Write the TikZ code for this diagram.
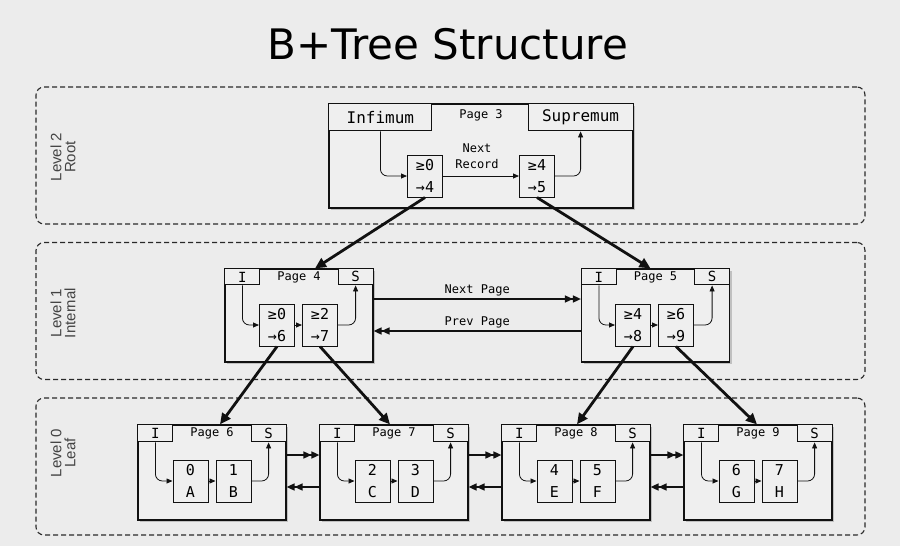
\documentclass[tikz,border=0pt]{standalone}
\usepackage{fontspec}
\setmainfont{DejaVu Sans}
\newfontfamily\monofont{DejaVu Sans Mono}
\newfontfamily\labelfont{Liberation Sans}
\usetikzlibrary{arrows.meta,positioning,shadows}
\definecolor{paper}{HTML}{ECECEC}
\definecolor{boxfill}{HTML}{EFEFEF}
\definecolor{ink}{HTML}{111111}
\definecolor{muted}{HTML}{444444}

\begin{document}
\begin{tikzpicture}[
  x=1pt,y=-1pt,
  lvl/.style={draw=ink!90,line width=1.1pt,dash pattern=on 5pt off 3pt,rounded corners=8pt,
              minimum width=829pt,minimum height=137pt},
  lab/.style={rotate=90,align=center,font=\labelfont\fontsize{15}{14}\selectfont,color=muted},
  pg/.style={draw=ink,line width=1.2pt,fill=boxfill,minimum width=148pt,minimum height=95pt,
             inner sep=0pt,drop shadow={shadow xshift=2pt,shadow yshift=-2pt,opacity=.4}},
  hd/.style={draw=ink,line width=1pt,fill=boxfill,minimum width=35pt,minimum height=17pt,
             inner sep=0pt,font=\monofont\fontsize{14}{14}\selectfont},
  rec/.style={draw=ink,line width=1pt,fill=boxfill,minimum width=35pt,minimum height=42pt,
              inner sep=0pt,align=center,font=\monofont\fontsize{15}{22}\selectfont},
  lbl/.style={font=\monofont\fontsize{12}{16}\selectfont,align=center,inner sep=1pt},
  a/.style={-{Triangle[length=6pt,width=5pt]},draw=ink,line width=.8pt,rounded corners=7pt},
  pp/.style={-{Triangle[length=8pt,width=7pt]Triangle[length=8pt,width=7pt]},draw=ink,line width=1.6pt},
  tree/.style={-{Triangle[length=11pt,width=10pt]},draw=ink,line width=2.8pt}]
\useasboundingbox (0,0) rectangle (900,546);
\fill[paper] (0,0) rectangle (900,546);
\node[font=\fontsize{42}{42}\selectfont] (title) at (448,44) {B+Tree Structure};
% levels
\node[lvl] (lv2) at (450.5,155.5) {};
\node[lvl] (lv1) at (450.5,311) {};
\node[lvl] (lv0) at (450.5,466.5) {};
\node[lab] (lb2) at (63,157) {Level 2\\Root};
\node[lab] (lb1) at (63,313) {Level 1\\Internal};
\node[lab] (lb0) at (63,453) {Level 0\\Leaf};
% root page
\node[pg,minimum width=304pt,minimum height=104pt] (p3) at (481,156) {};
\node[hd,anchor=north west,minimum width=103pt,minimum height=27pt,font=\monofont\fontsize{16}{16}\selectfont] (inf) at (p3.north west) {Infimum};
\node[hd,anchor=north east,minimum width=105pt,minimum height=27pt,font=\monofont\fontsize{16}{16}\selectfont] (sup) at (p3.north east) {Supremum};
\node[lbl] (p3t) at ([yshift=-12pt]p3.north) {Page 3};
\node[rec] (r30) at (425,176) {≥0\\→4};
\node[rec] (r34) at (537,176) {≥4\\→5};
\node[lbl] (nr) at (477,156) {Next\\Record};
\draw[a] (inf.south) |- (r30.west);
\draw[a] (r30.east) -- (r34.west);
\draw[a] (r34.east) -| (sup.south);
% internal pages
\node[pg,minimum height=93pt] (p4) at (299,315.5) {};
\node[hd,anchor=north west,minimum height=16pt] (p4i) at (p4.north west) {I};
\node[hd,anchor=north east,minimum height=16pt] (p4s) at (p4.north east) {S};
\node[lbl] (p4t) at ([yshift=-9pt]p4.north) {Page 4};
\node[rec] (r40) at (277,325) {≥0\\→6};
\node[rec] (r42) at (320,325) {≥2\\→7};
\draw[a] (p4i.south) |- (r40.west);
\draw[a] (r40.east) -- (r42.west);
\draw[a] (r42.east) -| (p4s.south);
\node[pg,minimum height=93pt] (p5) at (655.5,315.5) {};
\node[hd,anchor=north west,minimum height=16pt] (p5i) at (p5.north west) {I};
\node[hd,anchor=north east,minimum height=16pt] (p5s) at (p5.north east) {S};
\node[lbl] (p5t) at ([yshift=-9pt]p5.north) {Page 5};
\node[rec] (r54) at (633,325) {≥4\\→8};
\node[rec] (r56) at (676,325) {≥6\\→9};
\draw[a] (p5i.south) |- (r54.west);
\draw[a] (r54.east) -- (r56.west);
\draw[a] (r56.east) -| (p5s.south);
\draw[pp] ([yshift=16.5pt]p4.east) -- ([yshift=16.5pt]p5.west) node[lbl,midway,above=1pt] (np) {Next Page};
\draw[pp] ([yshift=-15.5pt]p5.west) -- ([yshift=-15.5pt]p4.east) node[lbl,midway,above=1pt] (pv) {Prev Page};
% leaf pages
\node[pg] (p6) at (212,472.5) {};
\node[hd,anchor=north west] (p6i) at (p6.north west) {I};
\node[hd,anchor=north east] (p6s) at (p6.north east) {S};
\node[lbl] (p6t) at ([yshift=-9pt]p6.north) {Page 6};
\node[rec] (r60) at (190.5,481) {0\\A};
\node[rec] (r61) at (233.5,481) {1\\B};
\node[pg] (p7) at (394,472.5) {};
\node[hd,anchor=north west] (p7i) at (p7.north west) {I};
\node[hd,anchor=north east] (p7s) at (p7.north east) {S};
\node[lbl] (p7t) at ([yshift=-9pt]p7.north) {Page 7};
\node[rec] (r72) at (372.5,481) {2\\C};
\node[rec] (r73) at (415.5,481) {3\\D};
\node[pg] (p8) at (576,472.5) {};
\node[hd,anchor=north west] (p8i) at (p8.north west) {I};
\node[hd,anchor=north east] (p8s) at (p8.north east) {S};
\node[lbl] (p8t) at ([yshift=-9pt]p8.north) {Page 8};
\node[rec] (r84) at (554.5,481) {4\\E};
\node[rec] (r85) at (597.5,481) {5\\F};
\node[pg] (p9) at (758,472.5) {};
\node[hd,anchor=north west] (p9i) at (p9.north west) {I};
\node[hd,anchor=north east] (p9s) at (p9.north east) {S};
\node[lbl] (p9t) at ([yshift=-9pt]p9.north) {Page 9};
\node[rec] (r96) at (736.5,481) {6\\G};
\node[rec] (r97) at (779.5,481) {7\\H};
\draw[a] (p6i.south) |- (r60.west); \draw[a] (r60.east) -- (r61.west); \draw[a] (r61.east) -| (p6s.south);
\draw[a] (p7i.south) |- (r72.west); \draw[a] (r72.east) -- (r73.west); \draw[a] (r73.east) -| (p7s.south);
\draw[a] (p8i.south) |- (r84.west); \draw[a] (r84.east) -- (r85.west); \draw[a] (r85.east) -| (p8s.south);
\draw[a] (p9i.south) |- (r96.west); \draw[a] (r96.east) -- (r97.west); \draw[a] (r97.east) -| (p9s.south);
\draw[pp] ([yshift=17.5pt]p6.east) -- ([yshift=17.5pt]p7.west);
\draw[pp] ([yshift=-14.5pt]p7.west) -- ([yshift=-14.5pt]p6.east);
\draw[pp] ([yshift=17.5pt]p7.east) -- ([yshift=17.5pt]p8.west);
\draw[pp] ([yshift=-14.5pt]p8.west) -- ([yshift=-14.5pt]p7.east);
\draw[pp] ([yshift=17.5pt]p8.east) -- ([yshift=17.5pt]p9.west);
\draw[pp] ([yshift=-14.5pt]p9.west) -- ([yshift=-14.5pt]p8.east);
% tree pointers
\draw[tree] (r30.south) -- ([xshift=16pt]p4.north);
\draw[tree] (r34.south) -- ([xshift=-5pt]p5.north);
\draw[tree] (r40.south) -- ([xshift=8pt]p6.north);
\draw[tree] (r42.south) -- ([xshift=-4pt]p7.north);
\draw[tree] (r54.south) -- ([xshift=1pt]p8.north);
\draw[tree] (r56.south) -- ([xshift=-1pt]p9.north);
\end{tikzpicture}
\end{document}
